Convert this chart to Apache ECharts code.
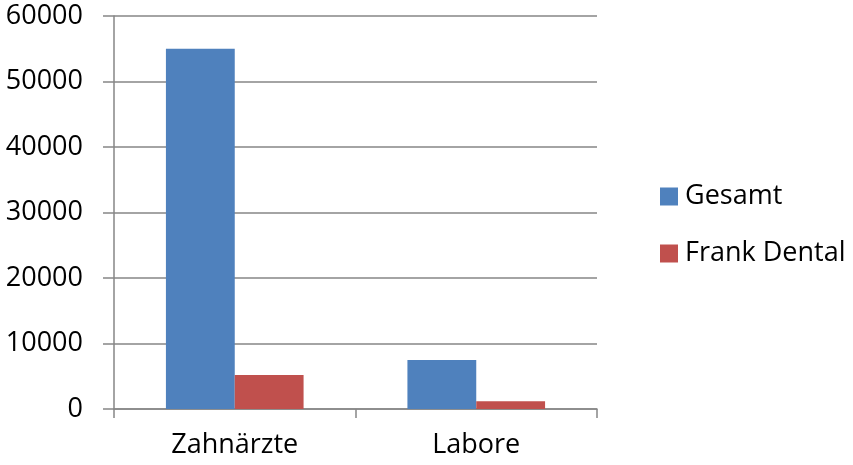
<!DOCTYPE html>
<html>
<head>
<meta charset="utf-8">
<script src="https://cdn.jsdelivr.net/npm/echarts@6/dist/echarts.min.js"></script>
<style>
html,body{margin:0;padding:0;background:#fff;}
#c{width:853px;height:465px;}
</style>
</head>
<body>
<div id="c"></div>
<script>
var categories = ['Zahnärzte', 'Labore'];
var gesamt = [55000, 7500];
var frankDental = [5200, 1200];
var seriesNames = ['Gesamt', 'Frank Dental'];

var FONT = '"Open Sans", sans-serif';
var AXIS = '#868686';
var chart = echarts.init(document.getElementById('c'), null, {renderer: 'canvas'});
chart.setOption({
  animation: false,
  backgroundColor: '#ffffff',
  textStyle: {fontFamily: FONT},
  grid: {left: 114, right: 256, top: 16, bottom: 56, containLabel: false},
  legend: {
    orient: 'vertical',
    left: 655,
    top: 178,
    itemWidth: 18,
    itemHeight: 18,
    itemGap: 30,
    icon: 'rect',
    textStyle: {fontFamily: FONT, fontSize: 27, color: '#000', lineHeight: 27, padding: [0, 0, 0, 2]},
    data: seriesNames
  },
  xAxis: {
    type: 'category',
    data: categories,
    boundaryGap: true,
    axisLine: {show: true, lineStyle: {color: AXIS, width: 1.5}},
    axisTick: {show: true, length: 9, alignWithLabel: false, lineStyle: {color: AXIS, width: 1.5}},
    axisLabel: {fontFamily: FONT, fontSize: 27, color: '#000', margin: 23},
    splitLine: {show: false}
  },
  yAxis: {
    type: 'value',
    min: 0,
    max: 60000,
    interval: 10000,
    axisLine: {show: true, lineStyle: {color: AXIS, width: 1.5}},
    axisTick: {show: true, inside: false, length: 11, lineStyle: {color: AXIS, width: 1.5}},
    axisLabel: {fontFamily: FONT, fontSize: 27, color: '#000', margin: 31,
      formatter: function (v) { return String(v); }},
    splitLine: {show: true, lineStyle: {color: AXIS, width: 1.5}}
  },
  series: [
    {name: seriesNames[0], type: 'bar', data: gesamt, barGap: '0%', barCategoryGap: '43%',
     itemStyle: {color: '#4F81BD'}},
    {name: seriesNames[1], type: 'bar', data: frankDental, barGap: '0%', barCategoryGap: '43%',
     itemStyle: {color: '#C0504D'}}
  ]
});
</script>
</body>
</html>
